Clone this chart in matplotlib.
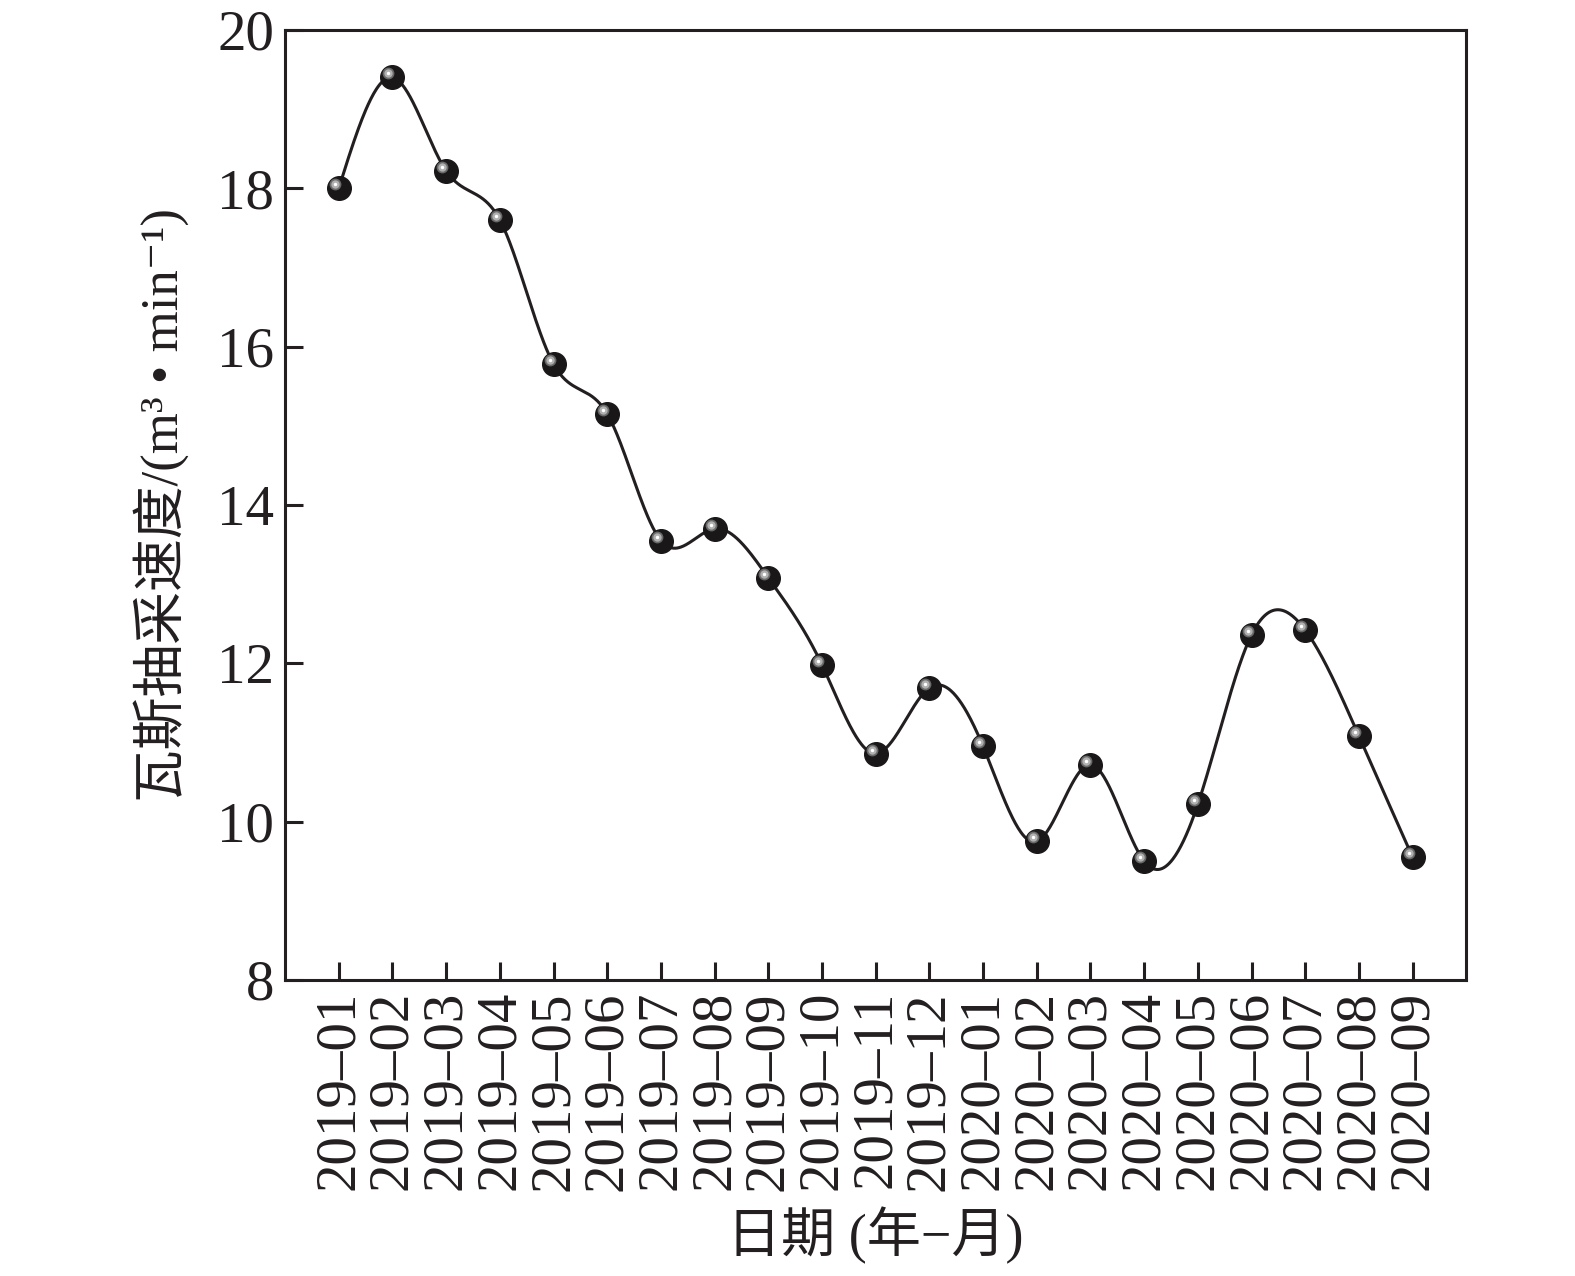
import matplotlib
matplotlib.use("Agg")
import matplotlib.pyplot as plt
import matplotlib.transforms as mtransforms
import numpy as np

months = ["2019–01", "2019–02", "2019–03", "2019–04", "2019–05", "2019–06",
          "2019–07", "2019–08", "2019–09", "2019–10", "2019–11", "2019–12",
          "2020–01", "2020–02", "2020–03", "2020–04", "2020–05", "2020–06",
          "2020–07", "2020–08", "2020–09"]
rate = [18.0, 19.4, 18.22, 17.6, 15.78, 15.15, 13.55, 13.7, 13.08, 11.98,
        10.86, 11.69, 10.95, 9.75, 10.72, 9.5, 10.22, 12.36, 12.42, 11.08, 9.55]

ink = "#231f20"
serif = ["Liberation Serif", "DejaVu Serif", "Noto Sans CJK SC"]
plt.rcParams["font.family"] = serif


def natural_spline(x, y, n=60):
    # natural cubic spline through the points, for the smooth line
    x = np.asarray(x, float)
    y = np.asarray(y, float)
    h = np.diff(x)
    m = len(x)
    A = np.zeros((m, m))
    b = np.zeros(m)
    A[0, 0] = A[-1, -1] = 1
    for i in range(1, m - 1):
        A[i, i - 1] = h[i - 1]
        A[i, i] = 2 * (h[i - 1] + h[i])
        A[i, i + 1] = h[i]
        b[i] = 6 * ((y[i + 1] - y[i]) / h[i] - (y[i] - y[i - 1]) / h[i - 1])
    M = np.linalg.solve(A, b)
    xs, ys = [], []
    for i in range(m - 1):
        t = np.linspace(x[i], x[i + 1], n, endpoint=(i == m - 2))
        a = x[i + 1] - t
        c = t - x[i]
        s = (M[i] * a ** 3 + M[i + 1] * c ** 3) / (6 * h[i]) \
            + (y[i] / h[i] - M[i] * h[i] / 6) * a \
            + (y[i + 1] / h[i] - M[i + 1] * h[i] / 6) * c
        xs.append(t)
        ys.append(s)
    return np.concatenate(xs), np.concatenate(ys)


fig = plt.figure(figsize=(15.75, 12.76), dpi=100)
ax = fig.add_axes([0.181, 0.232, 0.750, 0.7445])

x = np.arange(len(months))
sx, sy = natural_spline(x, rate)
ax.plot(sx, sy, color=ink, lw=2.2, zorder=2)

# ball markers with a highlight
ax.plot(x, rate, "o", ms=17, color="#1a1718", mec="#1a1718", zorder=3)
hl = mtransforms.offset_copy(ax.transData, fig=fig, x=-4, y=4, units="dots")
ax.plot(x, rate, "o", ms=8.5, color="#6a6a6a", mew=0, transform=hl, zorder=4)
ax.plot(x, rate, "o", ms=6, color="#b0b0b0", mew=0, transform=hl, zorder=5)
ax.plot(x, rate, "o", ms=2.5, color="white", mew=0, transform=hl, zorder=6)

ax.set_xlim(-1, 21)
ax.set_ylim(8, 20)
ax.set_yticks(np.arange(8, 21, 2))
ax.set_xticks(x)
ax.set_xticklabels(months, rotation=90, fontsize=41, color=ink)
ax.tick_params(axis="y", labelsize=41, labelcolor=ink)
ax.tick_params(direction="in", length=13, width=2.2, color=ink, pad=8)
for sp in ax.spines.values():
    sp.set_linewidth(2.2)
    sp.set_color(ink)

ax.set_xlabel("日期 (年−月)", fontsize=39, color=ink, labelpad=12)
ax.set_ylabel("瓦斯抽采速度/(m³ • min⁻¹)", fontsize=38, color=ink, labelpad=20)

fig.savefig("out.png", dpi=100)
